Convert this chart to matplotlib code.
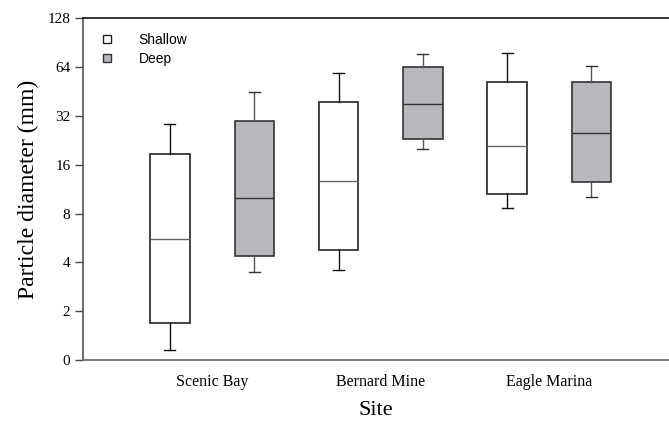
import matplotlib
matplotlib.use("Agg")
import matplotlib.pyplot as plt
from matplotlib.lines import Line2D

sites = ["Scenic Bay", "Bernard Mine", "Eagle Marina"]
series = ["Shallow", "Deep"]

# five-number summaries (mm): whisker low, Q1, median, Q3, whisker high
shallow_whislo = [1.16, 3.57, 8.7]
shallow_q1 = [1.68, 4.79, 10.6]
shallow_med = [5.55, 12.8, 20.9]
shallow_q3 = [18.7, 39.2, 51.9]
shallow_whishi = [28.4, 58.9, 77.9]

deep_whislo = [3.51, 20.1, 10.2]
deep_q1 = [4.36, 23.2, 12.6]
deep_med = [9.94, 38.1, 25.1]
deep_q3 = [29.8, 64.4, 51.6]
deep_whishi = [45.2, 77.6, 65.4]

yticks = [1, 2, 4, 8, 16, 32, 64, 128]
ytick_labels = ["0", "2", "4", "8", "16", "32", "64", "128"]

serif = ["Liberation Serif", "DejaVu Serif"]
sans = ["Liberation Sans", "DejaVu Sans"]

fig = plt.figure(figsize=(6.69, 4.25), dpi=100)
ax = fig.add_axes([0.124, 0.153, 0.876, 0.8035])

def stats(lo, q1, med, q3, hi):
    return [dict(whislo=a, q1=b, med=c, q3=d, whishi=e, fliers=[])
            for a, b, c, d, e in zip(lo, q1, med, q3, hi)]

pos = [1, 2, 3]
off = 0.25
w = 0.234

ax.bxp(stats(shallow_whislo, shallow_q1, shallow_med, shallow_q3, shallow_whishi),
       positions=[p - off for p in pos], widths=w, patch_artist=True, showfliers=False,
       capwidths=0.065,
       boxprops=dict(facecolor="white", edgecolor="#222222", linewidth=1.2),
       medianprops=dict(color="#666666", linewidth=1.0),
       whiskerprops=dict(color="#111111", linewidth=1.0),
       capprops=dict(color="#111111", linewidth=1.0))
ax.bxp(stats(deep_whislo, deep_q1, deep_med, deep_q3, deep_whishi),
       positions=[p + off for p in pos], widths=w, patch_artist=True, showfliers=False,
       capwidths=0.065,
       boxprops=dict(facecolor="#b8b8bc", edgecolor="#333333", linewidth=1.2),
       medianprops=dict(color="#333333", linewidth=1.0),
       whiskerprops=dict(color="#555555", linewidth=1.0),
       capprops=dict(color="#333333", linewidth=1.0))

ax.set_yscale("log", base=2)
ax.set_ylim(1, 128)
ax.set_yticks(yticks)
ax.set_yticklabels(ytick_labels, fontfamily=serif, fontsize=11)
ax.minorticks_off()
ax.set_xlim(0.234, 3.71)
ax.set_xticks(pos)
ax.set_xticklabels(sites, fontfamily=serif, fontsize=11.5)
ax.tick_params(axis="x", length=0, pad=10)
ax.tick_params(axis="y", direction="out", length=6, width=1, color="#444444", pad=3)

ax.spines["right"].set_visible(False)
ax.spines["top"].set_color("#111111")
ax.spines["left"].set_color("#555555")
ax.spines["bottom"].set_color("#666666")
for s in ["top", "left", "bottom"]:
    ax.spines[s].set_linewidth(1.2)

ax.set_ylabel("Particle diameter (mm)", fontfamily=serif, fontsize=17, labelpad=6)
ax.set_xlabel("Site", fontfamily=serif, fontsize=16, labelpad=8)

handles = [Line2D([], [], linestyle="none", marker="s", markersize=6,
                  markerfacecolor="white", markeredgecolor="#222222", markeredgewidth=1.0),
           Line2D([], [], linestyle="none", marker="s", markersize=6,
                  markerfacecolor="#b8b8bc", markeredgecolor="#333333", markeredgewidth=1.0)]
ax.legend(handles, series, loc="upper left", bbox_to_anchor=(0.0, 0.998), frameon=False,
          prop=dict(family=sans, size=10), handletextpad=1.5, labelspacing=0.35,
          borderaxespad=0.6, handlelength=1.5)

fig.savefig("out.png", dpi=100)
